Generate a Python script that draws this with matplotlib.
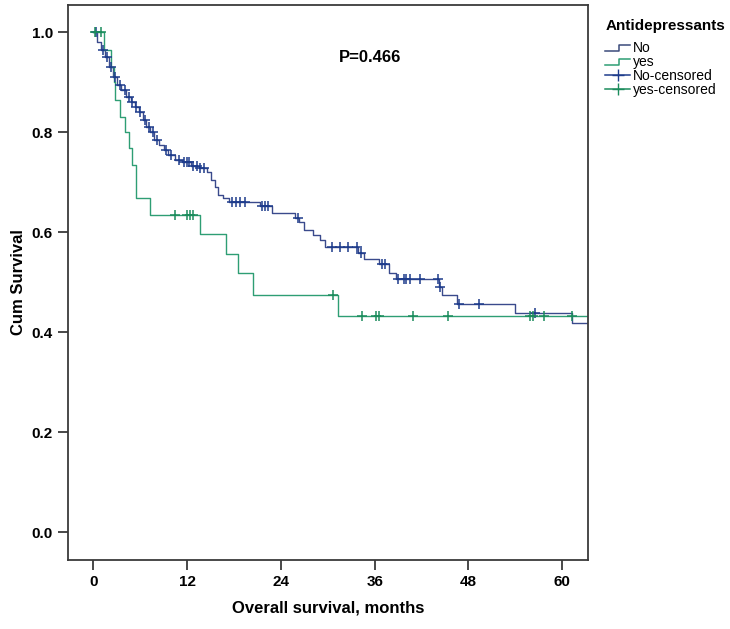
import matplotlib
matplotlib.use('Agg')
import matplotlib.pyplot as plt
from matplotlib.lines import Line2D
from matplotlib.legend_handler import HandlerBase

plt.rcParams['font.family'] = ['Liberation Sans', 'DejaVu Sans']

# Curva "No" (tiempo del evento, supervivencia tras el evento)
no_t = [0, 0.5, 1.0, 1.5, 2.0, 2.5, 3.0, 3.6, 4.2, 4.8, 5.3, 5.8, 6.3, 6.8, 7.3,
        7.8, 8.4, 9.0, 9.6, 10.5, 11.3, 12.5, 13.5, 14.5, 15.0, 15.6, 16.0, 16.6,
        17.3, 21.3, 22.9, 25.8, 26.3, 26.9, 28.1, 29.0, 29.7, 33.9, 34.6, 36.6,
        37.8, 38.7, 44.2, 44.6, 46.5, 54.0, 61.2]
no_s = [1.0, 0.98, 0.965, 0.95, 0.93, 0.91, 0.895, 0.885, 0.87, 0.86, 0.85, 0.84,
        0.825, 0.81, 0.80, 0.785, 0.775, 0.765, 0.755, 0.745, 0.74, 0.733, 0.728,
        0.72, 0.705, 0.69, 0.675, 0.668, 0.66, 0.652, 0.638, 0.628, 0.62, 0.604,
        0.594, 0.584, 0.57, 0.558, 0.546, 0.536, 0.518, 0.506, 0.49, 0.474, 0.456,
        0.438, 0.418]
no_cens = [0.3, 1.2, 1.8, 2.3, 2.8, 3.4, 4.0, 4.5, 5.0, 5.5, 6.0, 6.6, 7.1, 7.6,
           8.2, 9.3, 9.9, 11.0, 11.6, 12.0, 12.3, 12.8, 13.2, 13.7, 14.2, 17.8,
           18.3, 18.8, 19.4, 21.6, 22.0, 22.4, 26.2, 30.5, 31.6, 32.6, 33.7, 34.2,
           37.0, 37.3, 39.0, 39.8, 40.0, 40.5, 41.8, 44.1, 44.4, 46.8, 49.3, 56.5]

# Curva "yes"
yes_t = [0, 1.3, 2.3, 2.6, 2.8, 3.4, 4.0, 4.6, 5.0, 5.4, 5.5, 7.3, 13.7, 17.0,
         18.5, 20.4, 31.3]
yes_s = [1.0, 0.965, 0.93, 0.90, 0.864, 0.83, 0.80, 0.768, 0.734, 0.70, 0.668,
         0.634, 0.597, 0.557, 0.518, 0.475, 0.432]
yes_cens = [0.2, 1.0, 10.5, 12.0, 12.4, 12.8, 30.7, 34.4, 36.2, 36.5, 40.9, 45.4,
            55.9, 56.3, 57.7, 61.3]

x_fin = 63.3
col_no = '#3a4a8c'
col_yes = '#2e9e74'
cens_no = '#1e3c8c'
cens_yes = '#1b8c5c'


def surv_en(tiempos, surv, t):
    v = surv[0]
    for ti, si in zip(tiempos, surv):
        if ti <= t:
            v = si
    return v


class HandlerStep(HandlerBase):
    def create_artists(self, legend, orig, xd, yd, w, h, fontsize, trans):
        xs = [xd, xd + w * 0.55, xd + w * 0.55, xd + w]
        ys = [yd + h * 0.15, yd + h * 0.15, yd + h * 0.85, yd + h * 0.85]
        ln = Line2D(xs, ys, color=orig.get_color(), lw=1.1, transform=trans)
        return [ln]


fig = plt.figure(figsize=(7.3, 6.29), dpi=100)
ax = fig.add_axes([0.0932, 0.1097, 0.7123, 0.8823])

ax.step(no_t + [x_fin], no_s + [no_s[-1]], where='post', color=col_no, lw=1.0)
ax.step(yes_t + [x_fin], yes_s + [yes_s[-1]], where='post', color=col_yes, lw=1.0)
ax.plot(no_cens, [surv_en(no_t, no_s, t) for t in no_cens], '+', color=cens_no,
        ms=7, mew=1.1)
ax.plot(yes_cens, [surv_en(yes_t, yes_s, t) for t in yes_cens], '+', color=cens_yes,
        ms=7, mew=1.1)

ax.set_xlim(-3.24, x_fin)
ax.set_ylim(-0.056, 1.054)
ax.set_xticks([0, 12, 24, 36, 48, 60])
ax.set_yticks([0.0, 0.2, 0.4, 0.6, 0.8, 1.0])
ax.set_yticklabels(['0.0', '0.2', '0.4', '0.6', '0.8', '1.0'])
for s in ax.spines.values():
    s.set_color('#3a3a3a')
    s.set_linewidth(1.3)
ax.tick_params(direction='out', length=7, width=1.3, color='#3a3a3a',
               labelsize=11, pad=4)
for lb in ax.get_xticklabels() + ax.get_yticklabels():
    lb.set_fontweight('bold')
ax.set_xlabel('Overall survival, months', fontsize=12, fontweight='bold', labelpad=8)
ax.set_ylabel('Cum Survival', fontsize=12, fontweight='bold', labelpad=4)

ax.text(35.4, 0.95, 'P=0.466', fontsize=12, fontweight='bold', ha='center', va='center')

h_no = Line2D([], [], color='#3a4a7a')
h_yes = Line2D([], [], color=col_yes)
h_nc = Line2D([], [], color=cens_no, marker='+', ms=9, lw=1.1)
h_yc = Line2D([], [], color=cens_yes, marker='+', ms=9, lw=1.1)
leg = fig.legend([h_no, h_yes, h_nc, h_yc], ['No', 'yes', 'No-censored', 'yes-censored'],
                 loc='upper left', bbox_to_anchor=(0.812, 0.99), frameon=False,
                 title='Antidepressants', fontsize=10, handlelength=1.8,
                 handletextpad=0.2, labelspacing=0.0, handleheight=0.6,
                 handler_map={h_no: HandlerStep(), h_yes: HandlerStep()})
leg.get_title().set_fontweight('bold')
leg.get_title().set_fontsize(11)
leg._legend_box.align = 'left'
leg._legend_box.sep = 6

fig.savefig('out.png', dpi=100)
